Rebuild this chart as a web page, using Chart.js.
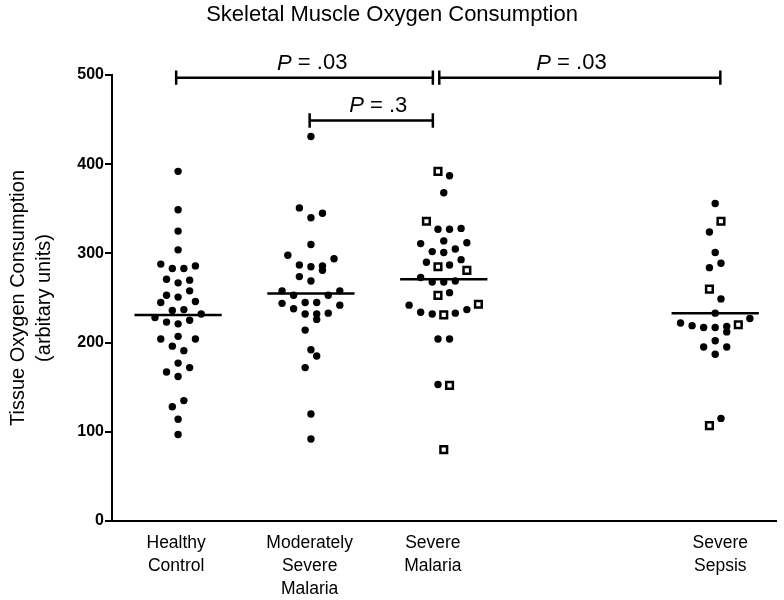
<!DOCTYPE html>
<html><head><meta charset="utf-8">
<script src="https://cdn.jsdelivr.net/npm/chart.js@4.4.0/dist/chart.umd.min.js"></script>
<style>html,body{margin:0;padding:0;background:#fff}canvas{display:block}</style>
</head><body>
<canvas id="c" width="784" height="600"></canvas>
<script>
// ---- Data ----
const groupLabels = [['Healthy','Control'],['Moderately','Severe','Malaria'],['Severe','Malaria'],['Severe','Sepsis']];
const tickPos = [1, 2.04, 3, 5.24];
const groupCenter = [1.015, 2.05, 3.085, 5.2];
const jitterUnit = 0.045;

const healthyDots = [392,349,325,304,288,283,283,286,271,267,270,253,251,258,245,246,236,237,228,232,223,221,225,204,207,204,196,191,177,172,167,162,135,128,114,97];
const healthyJit  = [0,0,0,0,-3,-1,1,3,-2,0,2,-2,0,2,-3,3,-1,1,-4,4,-2,0,2,-3,0,3,-1,1,0,2,-2,0,1,-1,0,0];

const moderateDots = [431,351,340,345,310,298,294,287,285,286,281,274,269,258,253,253,258,244,238,245,245,242,232,232,226,233,214,192,185,172,120,92];
const moderateJit  = [0,-2,0,2,0,-4,4,-2,0,2,2,-2,0,-5,-3,3,5,-5,-3,-1,1,5,-1,1,1,3,-1,0,1,-1,0,0];

const severeDots = [387,368,327,327,328,311,314,312,302,301,305,290,287,293,273,268,268,269,256,242,234,232,233,237,204,204,153];
const severeJit  = [1,0,-1,1,3,-4,0,4,-2,0,2,-3,1,3,-4,-2,0,2,1,-6,-4,-2,2,4,-1,1,-1];
const severeSquares = [392,336,285,281,253,231,243,152,80];
const severeSqJit   = [-1,-3,-1,4,-1,0,6,1,0];

const sepsisDots = [356,324,301,284,289,249,233,222,219,217,217,218,212,227,202,195,195,187,115];
const sepsisJit  = [0,-1,0,-1,1,1,0,-6,-4,-2,0,2,2,6,0,-2,2,0,1];
const sepsisSquares = [336,260,220,107];
const sepsisSqJit   = [1,-1,4,-1];

const means = [231, 255, 271, 233];
const meanHalfWidth = 0.34;

const bracketFrom = [1, 3.05, 2.04];
const bracketTo   = [3, 5.24, 3];
const bracketY    = [497, 497, 449];
const bracketTick = 8;
const pTexts  = ['.03', '.03', '.3'];
const pTextX  = [2.06, 4.08, 2.575];
const pTextY  = [513, 513, 465];

const titleText = 'Skeletal Muscle Oxygen Consumption';
const yTitle = ['Tissue Oxygen Consumption', '(arbitary units)'];

// ---- Build datasets ----
function pts(vals, jit, g){ return vals.map((v,i)=>({x: groupCenter[g] + jit[i]*jitterUnit, y: v})); }
const dotData = [].concat(pts(healthyDots,healthyJit,0), pts(moderateDots,moderateJit,1), pts(severeDots,severeJit,2), pts(sepsisDots,sepsisJit,3));
const squareData = [].concat(pts(severeSquares,severeSqJit,2), pts(sepsisSquares,sepsisSqJit,3));

const datasets = [];
means.forEach((m,g)=>{
  datasets.push({type:'line', data:[{x:groupCenter[g]-meanHalfWidth,y:m},{x:groupCenter[g]+meanHalfWidth,y:m}],
    borderColor:'#000', borderWidth:2.5, pointRadius:0, fill:false, order:3});
});
bracketFrom.forEach((x1,i)=>{
  const x2 = bracketTo[i], y = bracketY[i], t = bracketTick;
  datasets.push({type:'line', clip:false, data:[{x:x1,y:y+t},{x:x1,y:y-t},{x:x1,y:y},{x:x2,y:y},{x:x2,y:y+t},{x:x2,y:y-t}],
    borderColor:'#000', borderWidth:2.5, pointRadius:0, fill:false, tension:0, order:3});
});
datasets.push({type:'scatter', data:dotData, pointStyle:'circle', pointRadius:3.7, backgroundColor:'#000', borderColor:'#000', borderWidth:0, order:1});
datasets.push({type:'scatter', data:squareData, pointStyle:'rect', pointRadius:4.7, backgroundColor:'#fff', borderColor:'#000', borderWidth:2.5, order:0});

const FONT = '"Liberation Sans", Arial, sans-serif';
const textPlugin = {
  id:'texts',
  afterDraw(chart){
    const ctx = chart.ctx, xs = chart.scales.x, ys = chart.scales.y;
    ctx.save();
    ctx.fillStyle = '#000';
    ctx.textBaseline = 'middle';
    ctx.textAlign = 'center';
    ctx.font = '22px ' + FONT;
    ctx.fillText(titleText, 392, 15);
    // y title
    ctx.save();
    ctx.translate(18, 298);
    ctx.rotate(-Math.PI/2);
    ctx.font = '20px ' + FONT;
    ctx.fillText(yTitle[0], 0, 0);
    ctx.fillText(yTitle[1], 0, 26);
    ctx.restore();
    // P labels
    pTexts.forEach((t,i)=>{
      const cx = xs.getPixelForValue(pTextX[i]), cy = ys.getPixelForValue(pTextY[i]);
      ctx.font = 'italic 22px ' + FONT;
      const wP = ctx.measureText('P').width;
      ctx.font = '22px ' + FONT;
      const rest = ' = ' + t;
      const wR = ctx.measureText(rest).width;
      const left = cx - (wP + wR)/2;
      ctx.textAlign = 'left';
      ctx.font = 'italic 22px ' + FONT;
      ctx.fillText('P', left, cy);
      ctx.font = '22px ' + FONT;
      ctx.fillText(rest, left + wP, cy);
    });
    ctx.restore();
  }
};

new Chart(document.getElementById('c'), {
  data:{datasets},
  options:{
    responsive:false, animation:false,
    layout:{padding:{top:75, right:2, left:0, bottom:0}},
    plugins:{legend:{display:false}, tooltip:{enabled:false}, title:{display:false}},
    scales:{
      x:{type:'linear', min:0.5, max:5.68,
        afterBuildTicks: s => { s.ticks = tickPos.map(v=>({value:v})); },
        afterFit: s => { s.height = 79; s.paddingLeft = 0; s.paddingRight = 0; },
        ticks:{callback:(v,i)=>groupLabels[i], color:'#000', padding:11, maxRotation:0, autoSkip:false,
          font:{family:FONT, size:17.5, lineHeight:1.3}},
        grid:{drawOnChartArea:false, drawTicks:false},
        border:{display:true, color:'#000', width:2}
      },
      y:{type:'linear', min:0, max:500,
        afterFit: s => { s.width = 112; },
        ticks:{stepSize:100, color:'#000', padding:1,
          font:{family:FONT, size:16, weight:'bold'}},
        grid:{drawOnChartArea:false, drawTicks:true, tickLength:7, color:'#000', lineWidth:2},
        border:{display:true, color:'#000', width:2}
      }
    }
  },
  plugins:[textPlugin]
});
</script>
</body></html>
